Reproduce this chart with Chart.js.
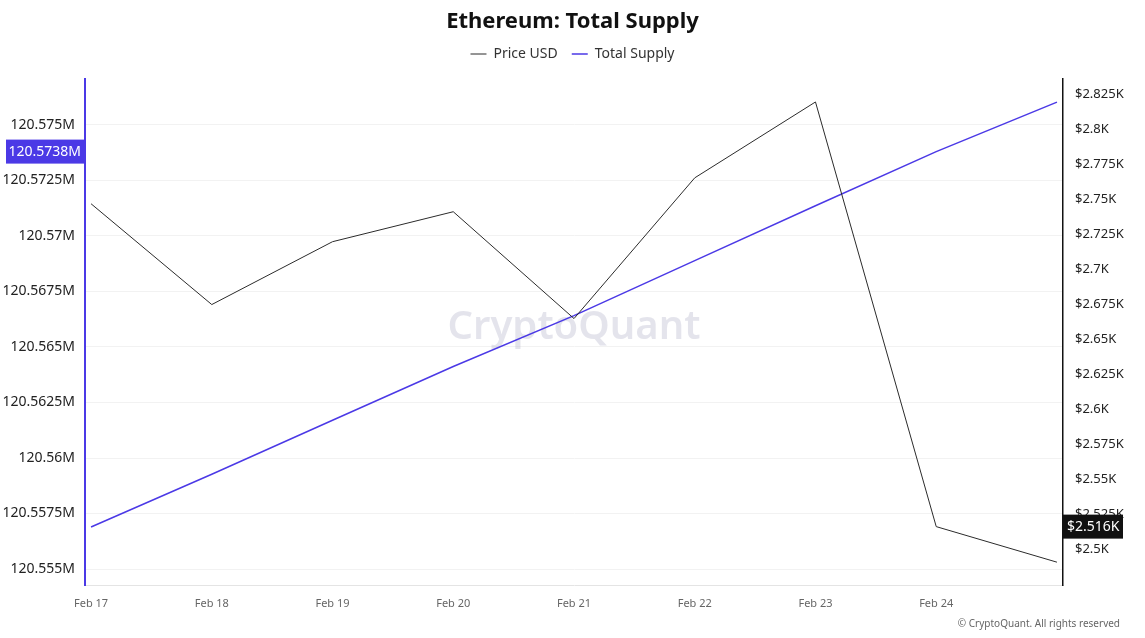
<!DOCTYPE html>
<html>
<head>
<meta charset="utf-8">
<script src="https://cdn.jsdelivr.net/npm/chart.js@4"></script>
<style>
  html, body { margin: 0; padding: 0; background: #fff; }
  #wrap { width: 1145px; height: 638px; position: relative; }
</style>
</head>
<body>
<div id="wrap"><canvas id="supply"></canvas></div>
<script>
// data
const dates = ['Feb 17', 'Feb 18', 'Feb 19', 'Feb 20', 'Feb 21', 'Feb 22', 'Feb 23', 'Feb 24', ''];
const totalSupply = [120.55689, 120.55927, 120.56170, 120.56412, 120.56641, 120.56889, 120.57136, 120.5738, 120.57603]; // M
const priceUsd = [2.7466, 2.6746, 2.7195, 2.7409, 2.6646, 2.7651, 2.8193, 2.516, 2.4906]; // K
const supplyTicks = [120.555, 120.5575, 120.56, 120.5625, 120.565, 120.5675, 120.57, 120.5725, 120.575];
const priceTicks = [2.5, 2.525, 2.55, 2.575, 2.6, 2.625, 2.65, 2.675, 2.7, 2.725, 2.75, 2.775, 2.8, 2.825];

const BLUE = '#4b39e6';
const FONT = '"Noto Sans", "Open Sans", sans-serif';
Chart.defaults.font.family = FONT;

const supplyFmt = v => +v.toFixed(4) + 'M';
const priceFmt = v => '$' + +v.toFixed(3) + 'K';

// a bit more room under the legend
const legendSpace = {
  id: 'legendSpace',
  beforeInit(chart) {
    const fit = chart.legend.fit;
    chart.legend.fit = function () {
      fit.bind(chart.legend)();
      this.height += 8;
    };
  }
};

const extras = {
  id: 'extras',
  beforeDatasetsDraw(chart) {
    const { ctx, chartArea } = chart;
    ctx.save();
    ctx.font = '600 40px ' + FONT;
    ctx.fillStyle = 'rgba(190, 190, 210, 0.42)';
    ctx.textAlign = 'center';
    ctx.textBaseline = 'middle';
    ctx.fillText('CryptoQuant', (chartArea.left + chartArea.right) / 2, 328);
    ctx.restore();
  },
  afterDraw(chart) {
    const { ctx } = chart;
    const yl = chart.scales.y;
    const yr = chart.scales.y1;
    ctx.save();
    ctx.font = '14px ' + FONT;
    ctx.textBaseline = 'middle';
    // current value boxes
    let v = totalSupply[7], py = yl.getPixelForValue(v);
    ctx.fillStyle = BLUE;
    ctx.fillRect(6, py - 12, yl.right - 6, 24);
    ctx.fillStyle = '#fff';
    ctx.textAlign = 'right';
    ctx.fillText(supplyFmt(v), yl.right - 4, py);
    v = priceUsd[7];
    py = yr.getPixelForValue(v);
    ctx.fillStyle = '#111';
    ctx.fillRect(yr.left, py - 12, 60, 24);
    ctx.fillStyle = '#fff';
    ctx.textAlign = 'left';
    ctx.fillText(priceFmt(v), yr.left + 4, py);
    // copyright
    ctx.font = '10px ' + FONT;
    ctx.fillStyle = '#666';
    ctx.textAlign = 'right';
    ctx.fillText('© CryptoQuant. All rights reserved', 1120, 624);
    ctx.restore();
  }
};

new Chart(document.getElementById('supply'), {
  type: 'line',
  data: {
    datasets: [{
      label: 'Price USD',
      data: priceUsd.map((p, i) => ({ x: i, y: p })),
      borderColor: '#2b2b2b',
      backgroundColor: '#2b2b2b',
      borderWidth: 1,
      pointRadius: 0,
      pointStyle: 'line',
      yAxisID: 'y1'
    }, {
      label: 'Total Supply',
      data: totalSupply.map((s, i) => ({ x: i, y: s })),
      borderColor: BLUE,
      backgroundColor: BLUE,
      borderWidth: 1.5,
      pointRadius: 0,
      pointStyle: 'line',
      yAxisID: 'y'
    }]
  },
  options: {
    responsive: true,
    maintainAspectRatio: false,
    animation: false,
    plugins: {
      title: {
        display: true,
        text: 'Ethereum: Total Supply',
        color: '#111',
        font: { size: 22, weight: 'bold', lineHeight: 1 },
        padding: { top: 11, bottom: 0 }
      },
      legend: {
        labels: {
          usePointStyle: true,
          pointStyleWidth: 16,
          color: '#333',
          font: { size: 14 },
          padding: 14
        }
      },
      tooltip: { enabled: false }
    },
    scales: {
      x: {
        type: 'linear',
        min: -0.05,
        max: 8.05,
        afterBuildTicks: s => { s.ticks = dates.map((d, i) => ({ value: i })); },
        ticks: {
          callback: v => dates[v],
          color: '#666',
          font: { size: 11 },
          maxRotation: 0,
          padding: 6
        },
        grid: { display: false, drawOnChartArea: false, tickLength: 6, color: '#ddd' },
        border: { color: '#e4e4e4' },
        afterFit: s => { s.height = 53; }
      },
      y: {
        position: 'left',
        min: 120.55428,
        max: 120.57707,
        afterBuildTicks: s => { s.ticks = supplyTicks.map(v => ({ value: v })); },
        ticks: { callback: supplyFmt, color: '#222', font: { size: 14 }, padding: 10 },
        grid: { color: '#f2f2f2', drawTicks: false },
        border: { color: BLUE, width: 2 },
        afterFit: s => { s.width = 85; }
      },
      y1: {
        position: 'right',
        min: 2.4743,
        max: 2.8357,
        afterBuildTicks: s => { s.ticks = priceTicks.map(v => ({ value: v })); },
        ticks: { callback: priceFmt, color: '#222', font: { size: 13 }, padding: 12 },
        grid: { display: false, drawTicks: false },
        border: { color: '#111', width: 1.5 },
        afterFit: s => { s.width = 82; }
      }
    }
  },
  plugins: [legendSpace, extras]
});
</script>
</body>
</html>
